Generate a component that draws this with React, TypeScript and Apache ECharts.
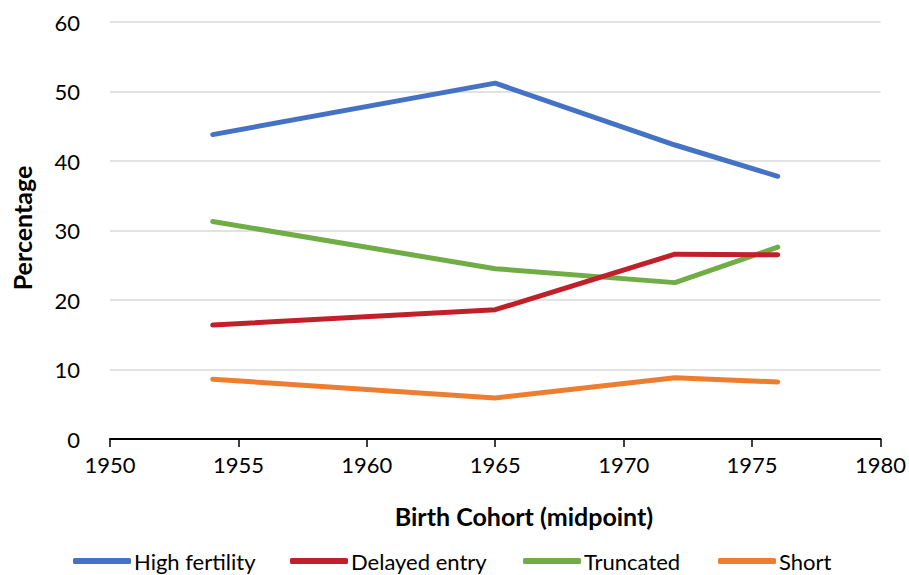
import React, { useEffect, useRef } from "react";
import * as echarts from "echarts";

const years = [1954, 1965, 1972, 1976];
const highFertility = [43.8, 51.2, 42.3, 37.8];
const delayedEntry = [16.4, 18.6, 26.6, 26.5];
const truncated = [31.3, 24.5, 22.5, 27.6];
const shortSeries = [8.6, 5.9, 8.8, 8.2];
const seriesNames = ["High fertility", "Delayed entry", "Truncated", "Short"];
const colors = ["#4472C4", "#C0202A", "#70AD47", "#ED7D31"];
const legendLefts = [73, 290, 523, 718];

const FONT = "Lato, 'Open Sans', sans-serif";

export default function App() {
  const ref = useRef<HTMLDivElement>(null);
  useEffect(() => {
    if (!ref.current) return;
    const chart = echarts.init(ref.current, undefined, { renderer: "svg" });
    const all = [highFertility, delayedEntry, truncated, shortSeries];
    chart.setOption({
      animation: false,
      backgroundColor: "#ffffff",
      textStyle: { fontFamily: FONT },
      grid: { left: 110, right: 27, top: 22, bottom: 136 },
      legend: seriesNames.map((n, i) => ({
        left: legendLefts[i],
        top: 550,
        padding: 0,
        itemWidth: 58,
        itemHeight: 6,
        icon: "roundRect",
        textStyle: { fontSize: 22, color: "#000", fontFamily: FONT, padding: [0, 0, 0, -2] },
        data: [n],
      })),
      xAxis: {
        type: "value",
        min: 1950,
        max: 1980,
        interval: 5,
        axisLine: { show: true, lineStyle: { color: "#000", width: 2 } },
        axisTick: { show: true, length: 8, inside: false, lineStyle: { color: "#000", width: 1.5 } },
        axisLabel: { fontSize: 22, color: "#000", margin: 14, fontFamily: FONT, formatter: (v: number) => String(v) },
        splitLine: { show: false },
      },
      yAxis: {
        type: "value",
        min: 0,
        max: 60,
        interval: 10,
        axisLine: { show: false },
        axisTick: { show: false },
        axisLabel: { fontSize: 22, color: "#000", margin: 30, fontFamily: FONT },
        splitLine: { show: true, lineStyle: { color: "#d9d9d9", width: 1.5 } },
      },
      graphic: [
        {
          type: "text",
          x: 524,
          y: 516,
          style: {
            text: "Birth Cohort (midpoint)",
            fontSize: 25,
            fontWeight: "bold",
            fill: "#000",
            fontFamily: FONT,
            align: "center",
            verticalAlign: "middle",
          },
        },
        {
          type: "text",
          x: 22,
          y: 228,
          rotation: Math.PI / 2,
          style: {
            text: "Percentage",
            fontSize: 25,
            fontWeight: "bold",
            fill: "#000",
            fontFamily: FONT,
            align: "center",
            verticalAlign: "middle",
          },
        },
      ],
      series: all.map((arr, i) => ({
        name: seriesNames[i],
        type: "line",
        data: years.map((y, j) => [y, arr[j]]),
        showSymbol: false,
        symbol: "none",
        lineStyle: { width: 5, color: colors[i], cap: "round", join: "round" },
        itemStyle: { color: colors[i] },
        z: 10 - i,
      })),
    });
    return () => chart.dispose();
  }, []);
  return <div ref={ref} style={{ width: 909, height: 575, position: "absolute", left: 0, top: 0 }} />;
}
